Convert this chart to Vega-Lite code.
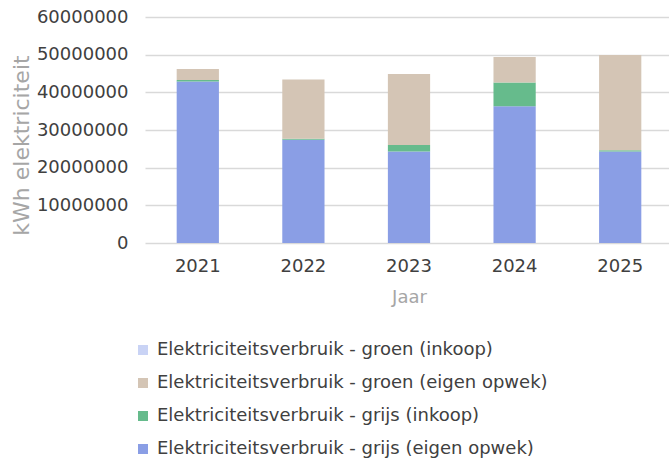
{
  "$schema": "https://vega.github.io/schema/vega-lite/v6.json",
  "autosize": "none",
  "padding": {"left": 145, "top": 17, "right": 0, "bottom": 221},
  "width": 528,
  "height": 226,
  "background": "white",
  "config": {
    "view": {"stroke": null},
    "font": "DejaVu Sans"
  },
  "data": {
    "values": [
      {"jaar": "2021", "categorie": "Elektriciteitsverbruik - grijs (eigen opwek)", "kwh": 42900000},
      {"jaar": "2021", "categorie": "Elektriciteitsverbruik - grijs (inkoop)", "kwh": 400000},
      {"jaar": "2021", "categorie": "Elektriciteitsverbruik - groen (eigen opwek)", "kwh": 2900000},
      {"jaar": "2021", "categorie": "Elektriciteitsverbruik - groen (inkoop)", "kwh": 0},
      {"jaar": "2022", "categorie": "Elektriciteitsverbruik - grijs (eigen opwek)", "kwh": 27400000},
      {"jaar": "2022", "categorie": "Elektriciteitsverbruik - grijs (inkoop)", "kwh": 300000},
      {"jaar": "2022", "categorie": "Elektriciteitsverbruik - groen (eigen opwek)", "kwh": 15700000},
      {"jaar": "2022", "categorie": "Elektriciteitsverbruik - groen (inkoop)", "kwh": 0},
      {"jaar": "2023", "categorie": "Elektriciteitsverbruik - grijs (eigen opwek)", "kwh": 24300000},
      {"jaar": "2023", "categorie": "Elektriciteitsverbruik - grijs (inkoop)", "kwh": 1700000},
      {"jaar": "2023", "categorie": "Elektriciteitsverbruik - groen (eigen opwek)", "kwh": 18900000},
      {"jaar": "2023", "categorie": "Elektriciteitsverbruik - groen (inkoop)", "kwh": 0},
      {"jaar": "2024", "categorie": "Elektriciteitsverbruik - grijs (eigen opwek)", "kwh": 36300000},
      {"jaar": "2024", "categorie": "Elektriciteitsverbruik - grijs (inkoop)", "kwh": 6300000},
      {"jaar": "2024", "categorie": "Elektriciteitsverbruik - groen (eigen opwek)", "kwh": 6800000},
      {"jaar": "2024", "categorie": "Elektriciteitsverbruik - groen (inkoop)", "kwh": 0},
      {"jaar": "2025", "categorie": "Elektriciteitsverbruik - grijs (eigen opwek)", "kwh": 24300000},
      {"jaar": "2025", "categorie": "Elektriciteitsverbruik - grijs (inkoop)", "kwh": 300000},
      {"jaar": "2025", "categorie": "Elektriciteitsverbruik - groen (eigen opwek)", "kwh": 25300000},
      {"jaar": "2025", "categorie": "Elektriciteitsverbruik - groen (inkoop)", "kwh": 0}
    ]
  },
  "mark": {"type": "bar"},
  "encoding": {
    "x": {
      "field": "jaar",
      "type": "ordinal",
      "title": "Jaar",
      "scale": {"paddingInner": 0.6, "paddingOuter": 0.3},
      "axis": {
        "labelAngle": 0,
        "labelFontSize": 18,
        "labelColor": "#404040",
        "labelPadding": 14,
        "ticks": false,
        "domain": false,
        "titleFontSize": 18,
        "titleFontWeight": "normal",
        "titleColor": "#a6a6a6",
        "titlePadding": 13
      }
    },
    "y": {
      "field": "kwh",
      "type": "quantitative",
      "title": "kWh elektriciteit",
      "stack": "zero",
      "scale": {"domain": [0, 60000000], "nice": false},
      "axis": {
        "values": [0, 10000000, 20000000, 30000000, 40000000, 50000000, 60000000],
        "format": "d",
        "labelFontSize": 18,
        "labelColor": "#404040",
        "labelPadding": 17,
        "ticks": false,
        "domain": false,
        "grid": true,
        "gridColor": "#d9d9d9",
        "gridWidth": 1.5,
        "titleFontSize": 22,
        "titleFontWeight": "normal",
        "titleColor": "#a6a6a6",
        "titlePadding": 3,
        "titleY": 128
      }
    },
    "color": {
      "field": "categorie",
      "type": "nominal",
      "scale": {
        "domain": [
          "Elektriciteitsverbruik - groen (inkoop)",
          "Elektriciteitsverbruik - groen (eigen opwek)",
          "Elektriciteitsverbruik - grijs (inkoop)",
          "Elektriciteitsverbruik - grijs (eigen opwek)"
        ],
        "range": ["#c9d3f5", "#d4c5b5", "#66bb8c", "#8a9ee5"]
      },
      "legend": {
        "orient": "none",
        "legendX": -11,
        "legendY": 324,
        "title": null,
        "symbolType": "square",
        "symbolSize": 100,
        "symbolStrokeWidth": 0,
        "labelFontSize": 18,
        "labelColor": "#404040",
        "labelOffset": 5,
        "labelLimit": 600,
        "rowPadding": 15
      }
    },
    "order": {"field": "categorie", "sort": "ascending"}
  }
}
